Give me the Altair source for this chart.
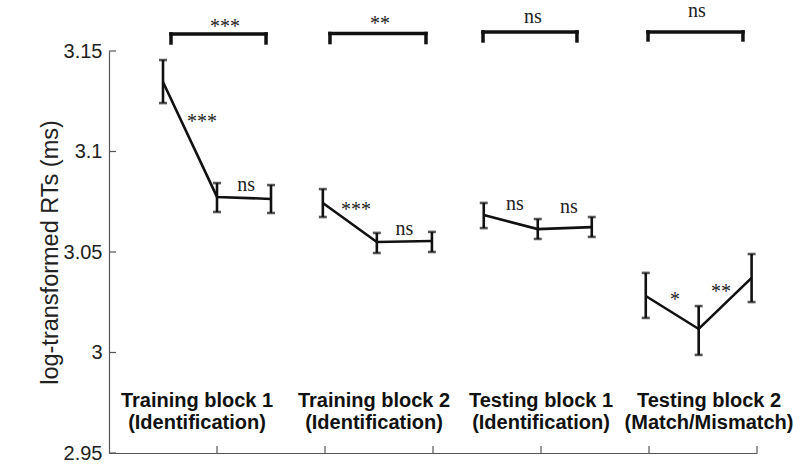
import altair as alt
import pandas as pd

# ---- data ----
block = ["B1", "B1", "B1", "B2", "B2", "B2", "B3", "B3", "B3", "B4", "B4", "B4"]
x_pos = [0.5, 1.0, 1.5, 1.98, 2.48, 2.99, 3.47, 3.97, 4.47, 4.97, 5.46, 5.95]
means = [3.1346, 3.0774, 3.0764, 3.0744, 3.0550, 3.0555, 3.0684, 3.0614, 3.0624, 3.0281, 3.0117, 3.0371]
err_hi = [3.1455, 3.0843, 3.0833, 3.0813, 3.0595, 3.0600, 3.0744, 3.0664, 3.0674, 3.0396, 3.0231, 3.0490]
err_lo = [3.1241, 3.0699, 3.0694, 3.0674, 3.0495, 3.0500, 3.0619, 3.0565, 3.0575, 3.0172, 2.9988, 3.0251]

cat_x = [0.815, 2.454, 4.0, 5.556]
cat_line1 = ["Training block 1", "Training block 2", "Testing block 1", "Testing block 2"]
cat_line2 = ["(Identification)", "(Identification)", "(Identification)", "(Match/Mismatch)"]
cat_y1 = [2.9757, 2.9757, 2.9757, 2.9757]
cat_y2 = [2.9650, 2.9650, 2.9650, 2.9650]

br_start = [0.574, 2.046, 3.463, 4.991]
br_end = [1.454, 2.935, 4.333, 5.870]
br_top = [3.1585, 3.1587, 3.1595, 3.1595]
br_leg = [3.1540, 3.1542, 3.1550, 3.1555]

ann_text = ["***", "**", "ns", "ns", "***", "ns", "***", "ns", "ns", "ns", "*", "**"]
ann_x = [1.074, 2.509, 3.926, 5.444, 0.861, 1.269, 2.287, 2.736, 3.759, 4.259, 5.241, 5.667]
ann_y = [3.1592, 3.1604, 3.1638, 3.1668, 3.1117, 3.0803, 3.0679, 3.0585, 3.0709, 3.0694, 3.0229, 3.0273]

y_ticks = [2.95, 3.0, 3.05, 3.1, 3.15]
x_ticks = [1, 2, 3, 4, 5, 6]

W, H = 648, 402
INK = "#111111"
AXC = "#555555"

pts = pd.DataFrame({"block": block, "x": x_pos, "m": means, "hi": err_hi, "lo": err_lo})
cats = pd.DataFrame({"x": cat_x, "l1": cat_line1, "l2": cat_line2, "y1": cat_y1, "y2": cat_y2})
brk = pd.DataFrame({"s": br_start, "e": br_end, "t": br_top, "b": br_leg})
ann = pd.DataFrame({"t": ann_text, "x": ann_x, "y": ann_y})
yt = pd.DataFrame({"v": y_ticks})
xt = pd.DataFrame({"v": x_ticks})

xs = alt.Scale(domain=[0, 6], nice=False, zero=False)
ys = alt.Scale(domain=[2.95, 3.15], nice=False, zero=False)

x_axis = alt.Axis(labels=False, ticks=False, title=None, grid=False,
                  domainColor=AXC, domainWidth=1.2)
y_axis = alt.Axis(values=y_ticks, format="~g", ticks=False, grid=False,
                  title="log-transformed RTs (ms)", titleFont="Liberation Sans",
                  titleFontSize=23.5, titleFontWeight="normal", titleColor="#222222",
                  titlePadding=1, labelFont="Liberation Sans", labelFontSize=20,
                  labelColor="#222222", labelPadding=7, domainColor=AXC, domainWidth=1.2)

line = alt.Chart(pts).mark_line(color=INK, strokeWidth=2.6).encode(
    x=alt.X("x:Q", scale=xs, axis=x_axis),
    y=alt.Y("m:Q", scale=ys, axis=y_axis),
    detail="block:N",
)
ebar = alt.Chart(pts).mark_rule(color=INK, strokeWidth=2.6).encode(
    x=alt.X("x:Q", scale=xs), y=alt.Y("lo:Q", scale=ys), y2="hi:Q")
cap_hi = alt.Chart(pts).mark_tick(color=INK, thickness=2.6, size=8, orient="horizontal").encode(
    x=alt.X("x:Q", scale=xs), y=alt.Y("hi:Q", scale=ys))
cap_lo = alt.Chart(pts).mark_tick(color=INK, thickness=2.6, size=8, orient="horizontal").encode(
    x=alt.X("x:Q", scale=xs), y=alt.Y("lo:Q", scale=ys))

br_h = alt.Chart(brk).mark_rule(color=INK, strokeWidth=3.5, strokeCap="square").encode(
    x=alt.X("s:Q", scale=xs), x2="e:Q", y=alt.Y("t:Q", scale=ys))
br_l = alt.Chart(brk).mark_rule(color=INK, strokeWidth=3.5, strokeCap="square").encode(
    x=alt.X("s:Q", scale=xs), y=alt.Y("t:Q", scale=ys), y2="b:Q")
br_r = alt.Chart(brk).mark_rule(color=INK, strokeWidth=3.5, strokeCap="square").encode(
    x=alt.X("e:Q", scale=xs), y=alt.Y("t:Q", scale=ys), y2="b:Q")

ann_txt = alt.Chart(ann).mark_text(font="Liberation Serif", fontSize=20, color="#222222",
                                   align="center", baseline="alphabetic").encode(
    x=alt.X("x:Q", scale=xs), y=alt.Y("y:Q", scale=ys), text="t:N")

cat1 = alt.Chart(cats).mark_text(font="Liberation Sans", fontSize=20, fontWeight="bold",
                                 color="#111111", align="center", baseline="middle").encode(
    x=alt.X("x:Q", scale=xs), y=alt.Y("y1:Q", scale=ys), text="l1:N")
cat2 = alt.Chart(cats).mark_text(font="Liberation Sans", fontSize=20, fontWeight="bold",
                                 color="#111111", align="center", baseline="middle").encode(
    x=alt.X("x:Q", scale=xs), y=alt.Y("y2:Q", scale=ys), text="l2:N")

ytick = alt.Chart(yt).mark_rule(color=AXC, strokeWidth=1.2).encode(
    y=alt.Y("v:Q", scale=ys), x=alt.value(0), x2=alt.value(7))
xtick = alt.Chart(xt).mark_rule(color=AXC, strokeWidth=1.2).encode(
    x=alt.X("v:Q", scale=xs), y=alt.value(H), y2=alt.value(H - 7))

chart = alt.layer(
    line, ebar, cap_hi, cap_lo, br_h, br_l, br_r, ann_txt, cat1, cat2, ytick, xtick
).properties(
    width=W, height=H,
    padding={"left": 109, "top": 51, "right": 36, "bottom": 11},
    autosize=alt.AutoSizeParams(type="none"),
    background="white",
).configure_view(stroke=None)

chart.save("out.html", embed_options={"renderer": "svg", "actions": False})
